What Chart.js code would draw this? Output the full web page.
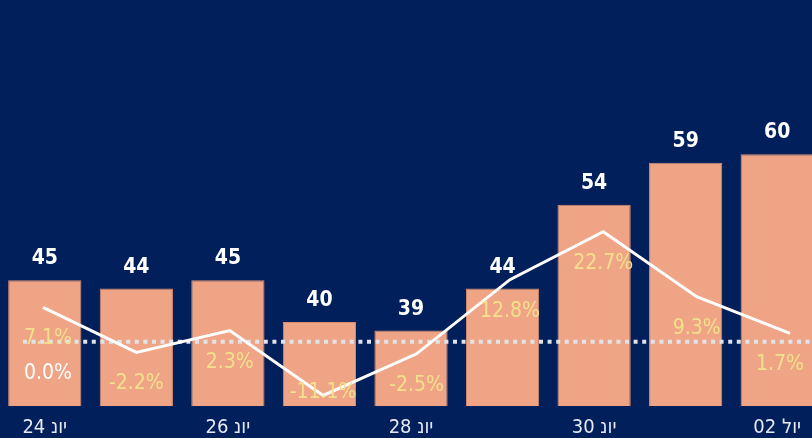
<!DOCTYPE html>
<html>
<head>
<meta charset="utf-8">
<script src="https://cdn.jsdelivr.net/npm/chart.js@4"></script>
<style>
  html, body { margin:0; padding:0; width:812px; height:438px; overflow:hidden; background:#001f5b; }
  #wrap { position:absolute; left:-1px; top:0; width:824px; height:438px; }
</style>
</head>
<body>
<div id="wrap"><canvas id="c"></canvas></div>
<script>
// ---- data ----
const categories = ['24 יונ','25 יונ','26 יונ','27 יונ','28 יונ','29 יונ','30 יונ','01 יול','02 יול'];
const counts = [45, 44, 45, 40, 39, 44, 54, 59, 60];
const changePct = [7.1, -2.2, 2.3, -11.1, -2.5, 12.8, 22.7, 9.3, 1.7];
const zeroLabel = '0.0%';

const FONT = '"DejaVu Sans Condensed", "DejaVu Sans", sans-serif';

const labelPlugin = {
  id: 'labels',
  afterDatasetDraw(chart, args) {
    if (args.index !== 0) return;
    // dotted zero line, drawn over the bars
    const ctx = chart.ctx, ca = chart.chartArea;
    const y0 = chart.scales.y2.getPixelForValue(0);
    ctx.save();
    ctx.strokeStyle = '#dfe3ea';
    ctx.lineWidth = 4;
    ctx.setLineDash([4, 4.6]);
    ctx.beginPath();
    ctx.moveTo(ca.left + 24, y0);
    ctx.lineTo(ca.right, y0);
    ctx.stroke();
    ctx.restore();
  },
  afterDatasetsDraw(chart) {
    const ctx = chart.ctx, ca = chart.chartArea;
    ctx.save();
    // bar values
    const barMeta = chart.getDatasetMeta(0);
    ctx.font = 'bold 21px ' + FONT;
    ctx.fillStyle = '#ffffff';
    ctx.textAlign = 'center';
    ctx.textBaseline = 'alphabetic';
    barMeta.data.forEach((bar, i) => {
      ctx.fillText(String(counts[i]), bar.x, bar.y - 16);
    });
    // percentage labels
    const lineMeta = chart.getDatasetMeta(1);
    ctx.font = '21px ' + FONT;
    const minL = ca.left + 25, maxR = ca.right - 19;
    const place = (txt, px, py) => {
      const w = ctx.measureText(txt).width;
      let cx = px;
      if (cx - w / 2 < minL) cx = minL + w / 2;
      if (cx + w / 2 > maxR) cx = maxR - w / 2;
      const by = Math.min(py + 37, ca.bottom - 8);
      ctx.fillText(txt, cx, by);
    };
    ctx.fillStyle = '#f3e08c';
    lineMeta.data.forEach((pt, i) => {
      place(changePct[i].toFixed(1) + '%', pt.x, pt.y);
    });
    // zero line label
    ctx.fillStyle = '#ffffff';
    const y0 = chart.scales.y2.getPixelForValue(0);
    place(zeroLabel, lineMeta.data[0].x, y0);
    ctx.restore();
  }
};

new Chart(document.getElementById('c'), {
  type: 'bar',
  data: {
    labels: categories,
    datasets: [
      {
        type: 'bar',
        data: counts,
        backgroundColor: '#efa585',
        borderColor: '#d8906f',
        borderWidth: 1,
        grouped: false,
        barPercentage: 0.8,
        categoryPercentage: 1.0,
        xAxisID: 'x',
        yAxisID: 'y',
        order: 2
      },
      {
        type: 'line',
        data: changePct.map((v, i) => ({ x: i, y: v })),
        borderColor: '#ffffff',
        borderWidth: 3,
        pointRadius: 0,
        tension: 0,
        fill: false,
        xAxisID: 'x2',
        yAxisID: 'y2',
        order: 1
      }
    ]
  },
  options: {
    responsive: true,
    maintainAspectRatio: false,
    animation: false,
    devicePixelRatio: 1,
    layout: { padding: 0 },
    plugins: { legend: { display: false }, tooltip: { enabled: false } },
    scales: {
      x: {
        type: 'category',
        offset: true,
        grid: { display: false, drawTicks: false },
        border: { display: false },
        ticks: {
          autoSkip: false,
          maxRotation: 0,
          padding: 10,
          color: '#e6e9f1',
          font: { family: FONT, size: 20 },
          callback: function (val, i) { return i % 2 === 0 ? categories[i] : ''; }
        },
        afterFit(scale) { scale.height = 32; }
      },
      x2: { type: 'linear', display: false, offset: false, min: -0.4712, max: 8.353 },
      y: { display: false, min: 30, max: 78.4 },
      y2: { display: false, min: -13.27, max: 70.5 }
    }
  },
  plugins: [labelPlugin]
});
</script>
</body>
</html>
